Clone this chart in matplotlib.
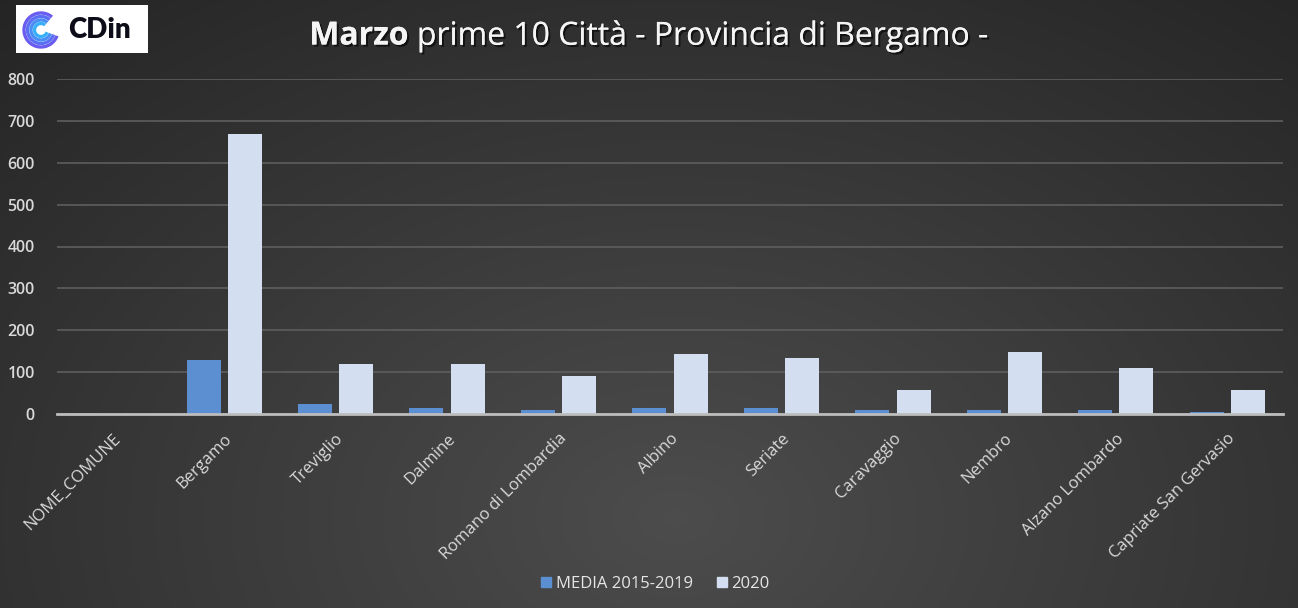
import matplotlib
matplotlib.use("Agg")
import matplotlib.pyplot as plt
import numpy as np
from matplotlib.patches import Rectangle, Arc
from matplotlib import patheffects as pe

categories = ["NOME_COMUNE", "Bergamo", "Treviglio", "Dalmine", "Romano di Lombardia",
              "Albino", "Seriate", "Caravaggio", "Nembro", "Alzano Lombardo",
              "Capriate San Gervasio"]
media = [0, 129, 24, 15, 10, 15, 15, 10, 10, 10, 5]
y2020 = [0, 668, 119, 119, 91, 143, 134, 57, 148, 110, 57]
series_names = ["MEDIA 2015-2019", "2020"]
yticks = [0, 100, 200, 300, 400, 500, 600, 700, 800]
title_bold = "Marzo"
title_rest = " prime 10 Città - Provincia di Bergamo -"

plt.rcParams['font.family'] = ['Open Sans', 'DejaVu Sans']

fig = plt.figure(figsize=(12.98, 6.08), dpi=100)

# background gradient
bg = fig.add_axes([0, 0, 1, 1], zorder=-10)
H, W = 300, 600
yy, xx = np.mgrid[0:H, 0:W]
xn = xx / W
yn = yy / H
d = np.sqrt(((xn - 0.52) / 0.75) ** 2 + ((yn - 0.85) / 1.1) ** 2)
val = 0.30 - 0.15 * np.clip(d, 0, 1.2)
img = np.dstack([val, val, val])
bg.imshow(img, aspect='auto', extent=[0, 1, 0, 1], origin='upper')
bg.set_xlim(0, 1); bg.set_ylim(0, 1)
bg.axis('off')

ax = fig.add_axes([57/1298, 1 - 414/608, (1283-57)/1298, (414-79)/608])
ax.set_facecolor('none')
x = np.arange(len(categories))
w = 0.305
off = 0.185
ax.bar(x - off, media, width=w, color='#5b8fd2', zorder=3)
ax.bar(x + off, y2020, width=w, color='#d3def0', zorder=3)
ax.set_xlim(-0.5, len(categories) - 0.5)
ax.set_ylim(0, 800)
ax.set_yticks(yticks)
ax.yaxis.grid(True, color='#5e5e5e', linewidth=1.2)
ax.set_axisbelow(True)
for s in ['top', 'right', 'left']:
    ax.spines[s].set_visible(False)
ax.spines['bottom'].set_color('#bdbdbd')
ax.spines['bottom'].set_linewidth(2)
ax.spines['bottom'].set_zorder(4)
ax.tick_params(axis='both', length=0, colors='#d9d9d9', labelsize=11.5)
ax.tick_params(axis='y', pad=16)
ax.set_xticks(x)
ax.set_xticklabels(categories, rotation=45, ha='right', rotation_mode='anchor', fontsize=12)
ax.tick_params(axis='x', pad=12)
for lbl in ax.get_yticklabels():
    lbl.set_fontweight('semibold')

# legend
handles = [Rectangle((0, 0), 1, 1, color='#5b8fd2'), Rectangle((0, 0), 1, 1, color='#d3def0')]
leg = fig.legend(handles, series_names, loc='center', bbox_to_anchor=(0.505, 1 - 584/608),
                 ncol=2, frameon=False, fontsize=12, handlelength=0.6, handleheight=0.6,
                 handletextpad=0.3, columnspacing=1.4)
for t in leg.get_texts():
    t.set_color('#e6e6e6')

# title
ty = 1 - 36/608
t1 = fig.text(0, ty, title_bold, fontsize=23, fontweight='bold', color='#f5f5f5',
              ha='left', va='center')
t2 = fig.text(0, ty, title_rest, fontsize=23, color='#f5f5f5', ha='left', va='center')
fig.canvas.draw()
r = fig.canvas.get_renderer()
bb = t1.get_window_extent(r)
bb2 = t2.get_window_extent(r)
total = bb.width + bb2.width
start = 650 - total / 2
t1.set_position((start / 1298, ty))
t2.set_position(((start + bb.width) / 1298, ty))
for t in (t1, t2):
    t.set_path_effects([pe.withSimplePatchShadow(offset=(1.5, -1.5), shadow_rgbFace='black', alpha=0.6), pe.Normal()])

# logo
lg = fig.add_axes([16/1298, 1 - 53/608, 132/1298, 48/608])
lg.set_xlim(0, 132); lg.set_ylim(0, 48)
lg.set_facecolor('white')
lg.set_xticks([]); lg.set_yticks([])
for s in lg.spines.values():
    s.set_visible(False)
cols = ['#6a5cf0', '#5b6ff2', '#4a8ef5', '#38b0f8']
for i, rr in enumerate([17, 13.5, 10, 6.5]):
    lg.add_patch(Arc((25, 23), 2*rr, 2*rr, theta1=50, theta2=340, color=cols[i], lw=2.4))
lg.text(52, 23, "CDin", fontsize=20, fontweight='heavy', color='#0d0d1a', va='center', ha='left',
        family=['Lato', 'DejaVu Sans'])

fig.savefig("out.png", dpi=100, facecolor='#333333')
